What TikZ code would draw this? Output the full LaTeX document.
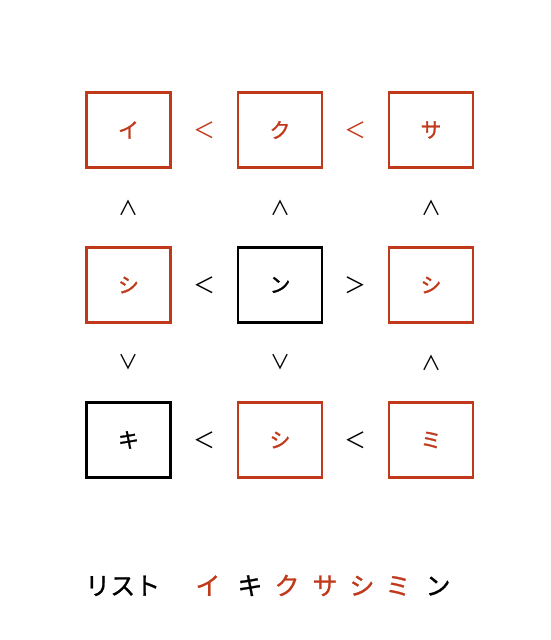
\documentclass[tikz,border=0pt]{standalone}
\usepackage{fontspec}
\usetikzlibrary{calc}
\newfontfamily\jp{Noto Sans CJK JP}
\definecolor{rd}{HTML}{C0391B}
\begin{document}
\begin{tikzpicture}[x=1pt,y=1pt,
  cell/.style={draw=rd,line width=2.8pt,minimum width=84pt,minimum height=75pt,inner sep=0pt,text=rd,font=\jp\addfontfeature{FakeBold=1.2}\fontsize{21}{21}\selectfont},
  cellk/.style={cell,draw=black,text=black},
  rel/.style={font=\jp\fontsize{22}{22}\selectfont,inner sep=0pt},
  vrel/.style={font=\jp\fontsize{20}{20}\selectfont,inner sep=0pt},
  lst/.style={font=\jp\addfontfeature{FakeBold=1}\fontsize{25}{25}\selectfont,inner sep=0pt,anchor=base}]
\useasboundingbox (0,0) rectangle (550,640);
% row 1
\node[cell] (a1) at (128.5,510) {イ};
\node[cell] (a2) at (280,510) {ク};
\node[cell] (a3) at (431,510) {サ};
% row 2
\node[cell] (b1) at (128.5,355) {シ};
\node[cellk] (b2) at (280,355) {ン};
\node[cell] (b3) at (431,355) {シ};
% row 3
\node[cellk] (c1) at (128.5,200) {キ};
\node[cell] (c2) at (280,200) {シ};
\node[cell] (c3) at (431,200) {ミ};
% horizontal relations
\node[rel,text=rd] (h11) at ($(a1)!0.5!(a2)$) {＜};
\node[rel,text=rd] (h12) at ($(a2)!0.5!(a3)$) {＜};
\node[rel] (h21) at ($(b1)!0.5!(b2)$) {＜};
\node[rel] (h22) at ($(b2)!0.5!(b3)$) {＞};
\node[rel] (h31) at ($(c1)!0.5!(c2)$) {＜};
\node[rel] (h32) at ($(c2)!0.5!(c3)$) {＜};
% vertical relations
\node[vrel] (v11) at ($(a1)!0.5!(b1)$) {∧};
\node[vrel] (v12) at ($(a2)!0.5!(b2)$) {∧};
\node[vrel] (v13) at ($(a3)!0.5!(b3)$) {∧};
\node[vrel] (v21) at ($(b1)!0.5!(c1)$) {∨};
\node[vrel] (v22) at ($(b2)!0.5!(c2)$) {∨};
\node[vrel] (v23) at ($(b3)!0.5!(c3)$) {∧};
% list
\node[lst,anchor=base west] (l0) at (85,45) {リスト};
\node[lst,text=rd] (l1) at (208,45) {イ};
\node[lst] (l2) at (250,45) {キ};
\node[lst,text=rd] (l3) at (287,45) {ク};
\node[lst,text=rd] (l4) at (325,45) {サ};
\node[lst,text=rd] (l5) at (362,45) {シ};
\node[lst,text=rd] (l6) at (398,45) {ミ};
\node[lst] (l7) at (438,45) {ン};
\end{tikzpicture}
\end{document}
